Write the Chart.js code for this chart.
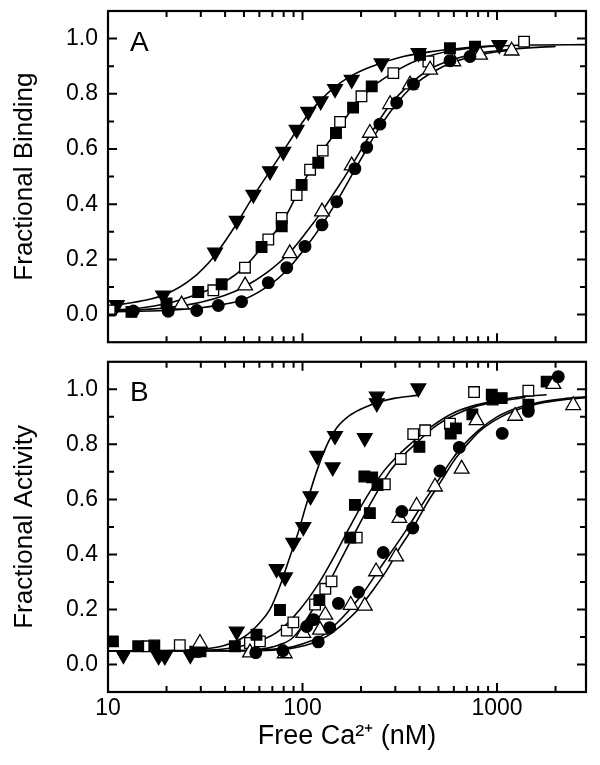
<!DOCTYPE html>
<html>
<head>
<meta charset="utf-8">
<script src="https://cdn.jsdelivr.net/npm/chart.js@4.4.1/dist/chart.umd.min.js"></script>
<style>
  html, body { margin: 0; padding: 0; background: #fff; }
  #wrapA { position: absolute; left: 0; top: 0; width: 600px; height: 352px; }
  #wrapB { position: absolute; left: 0; top: 352px; width: 600px; height: 413px; }
</style>
</head>
<body>
<div id="wrapA"><canvas id="chartA"></canvas></div>
<div id="wrapB"><canvas id="chartB"></canvas></div>
<script>
// axis ticks
const xDecades = [10, 100, 1000];
const xMinor = [20, 30, 40, 50, 60, 70, 80, 90, 200, 300, 400, 500, 600, 700, 800, 900, 2000];
const yMajor = [0, 0.2, 0.4, 0.6, 0.8, 1.0];
const yMinor = [0.1, 0.3, 0.5, 0.7, 0.9];

// ---- panel A : fractional binding ----
const aTriDownX = [11.1, 19.2, 35.5, 45.9, 55.9, 68.1, 79.6, 93.3, 107, 124, 147, 179, 255, 395, 1028];
const aTriDownY = [0.035, 0.07, 0.225, 0.34, 0.435, 0.52, 0.59, 0.67, 0.735, 0.773, 0.818, 0.851, 0.911, 0.948, 0.977];
const aSqFillX = [13.2, 20, 29.1, 38.4, 61.6, 78.2, 99, 120.5, 148.6, 182, 227, 402, 573, 771];
const aSqFillY = [0.01, 0.04, 0.082, 0.11, 0.245, 0.32, 0.47, 0.55, 0.658, 0.75, 0.827, 0.941, 0.965, 0.971];
const aSqOpenX = [10.2, 34.8, 50.6, 66.7, 78.2, 93.3, 109.4, 127, 156, 201, 293, 444, 1377];
const aSqOpenY = [0.015, 0.088, 0.17, 0.272, 0.35, 0.433, 0.525, 0.594, 0.698, 0.791, 0.875, 0.917, 0.989];
const aTriOpenX = [23.9, 50.7, 86, 126, 179, 222, 282, 357, 453, 596, 818, 1189];
const aTriOpenY = [0.036, 0.105, 0.222, 0.373, 0.54, 0.658, 0.762, 0.833, 0.887, 0.917, 0.941, 0.956];
const aCircX = [13.5, 20.4, 28.6, 36.9, 48.6, 66.7, 83, 103, 126, 150, 186, 214, 250, 305, 372, 573, 726];
const aCircY = [0.013, 0.012, 0.015, 0.033, 0.047, 0.116, 0.17, 0.247, 0.325, 0.409, 0.529, 0.606, 0.69, 0.768, 0.835, 0.92, 0.935];

// fitted curves A
const aFitTriX = [10, 15, 20, 27, 35, 45, 56, 68, 80, 93, 107, 125, 147, 175, 210, 255, 330, 450, 650, 1000];
const aFitTriY = [0.03, 0.05, 0.075, 0.13, 0.21, 0.32, 0.43, 0.52, 0.595, 0.665, 0.725, 0.78, 0.825, 0.862, 0.89, 0.912, 0.935, 0.952, 0.965, 0.975];
const aFitSqX = [10, 15, 20, 29, 38, 50, 62, 78, 93, 109, 127, 150, 180, 225, 290, 400, 570, 800, 1100, 1500, 2868];
const aFitSqY = [0.015, 0.025, 0.04, 0.075, 0.11, 0.17, 0.245, 0.33, 0.43, 0.52, 0.595, 0.665, 0.745, 0.82, 0.875, 0.925, 0.955, 0.968, 0.974, 0.977, 0.978];
const aFitTriOX = [10, 20, 30, 40, 50, 65, 86, 105, 126, 150, 179, 222, 282, 357, 453, 600, 820, 1200, 2000];
const aFitTriOY = [0.012, 0.025, 0.045, 0.07, 0.1, 0.15, 0.225, 0.3, 0.375, 0.455, 0.54, 0.65, 0.76, 0.835, 0.89, 0.925, 0.948, 0.962, 0.972];
const aFitCircX = [10, 20, 30, 40, 50, 67, 83, 103, 126, 150, 186, 214, 250, 305, 372, 470, 600, 800, 1200];
const aFitCircY = [0.01, 0.015, 0.025, 0.038, 0.055, 0.105, 0.16, 0.24, 0.325, 0.41, 0.525, 0.6, 0.68, 0.765, 0.83, 0.88, 0.915, 0.94, 0.96];

// ---- panel B : fractional activity ----
const bTriDownX = [12, 18.2, 19.6, 26.5, 45.9, 73.6, 81.3, 89.7, 101, 110, 119, 143, 147, 209, 241, 241, 394];
const bTriDownY = [0.035, 0.03, 0.03, 0.035, 0.12, 0.347, 0.317, 0.443, 0.5, 0.612, 0.759, 0.717, 0.831, 0.823, 0.974, 0.95, 1.004];
const bSqFillX = [10.6, 14.3, 17.3, 28.1, 29.9, 44.9, 58, 76.6, 122, 176, 186, 222, 208, 228, 243, 399, 578, 615, 747, 940, 950, 1057, 1449, 1800];
const bSqFillY = [0.084, 0.066, 0.069, 0.046, 0.048, 0.066, 0.108, 0.198, 0.234, 0.461, 0.58, 0.55, 0.683, 0.68, 0.652, 0.791, 0.839, 0.858, 0.909, 0.98, 0.963, 0.968, 0.944, 1.028];
const bSqOpenX = [16.1, 23.4, 53.7, 60.4, 83, 89.7, 116, 131, 141, 190, 265, 320, 371, 427, 573, 762, 1449];
const bSqOpenY = [0.066, 0.07, 0.078, 0.084, 0.123, 0.153, 0.218, 0.275, 0.302, 0.461, 0.655, 0.747, 0.837, 0.851, 0.875, 0.99, 0.995];
const bTriOpenX = [29.7, 53.7, 81, 101, 123, 131, 177, 209, 239, 303, 315, 386, 480, 658, 785, 1239, 1950, 2466];
const bTriOpenY = [0.078, 0.043, 0.04, 0.114, 0.126, 0.18, 0.216, 0.213, 0.338, 0.392, 0.532, 0.576, 0.646, 0.711, 0.887, 0.903, 1.019, 0.942];
const bCircX = [57.5, 79.3, 105, 114, 120.5, 138, 153, 194, 260, 324, 369, 509, 640, 1064, 1449, 2066];
const bCircY = [0.043, 0.05, 0.138, 0.163, 0.082, 0.134, 0.222, 0.263, 0.407, 0.556, 0.496, 0.703, 0.789, 0.84, 0.92, 1.046];

// fitted curves B
const bFitTriX = [10, 20, 30, 40, 50, 60, 68, 77, 86, 95, 104, 118, 132, 150, 175, 210, 250, 300, 390];
const bFitTriY = [0.05, 0.05, 0.055, 0.07, 0.1, 0.15, 0.2, 0.29, 0.39, 0.48, 0.575, 0.7, 0.79, 0.86, 0.905, 0.935, 0.955, 0.968, 0.978];
const bFitSqX = [10, 30, 45, 60, 75, 97, 120, 145, 175, 210, 260, 310, 357, 450, 600, 800, 1100, 1400, 1800];
const bFitSqY = [0.05, 0.052, 0.062, 0.085, 0.12, 0.2, 0.29, 0.39, 0.5, 0.6, 0.7, 0.76, 0.8, 0.86, 0.915, 0.945, 0.965, 0.975, 0.98];
const bFitSqOX = [10, 40, 60, 75, 90, 113, 135, 160, 193, 230, 280, 330, 379, 470, 620, 800, 1100, 1400];
const bFitSqOY = [0.05, 0.05, 0.055, 0.07, 0.1, 0.2, 0.29, 0.39, 0.5, 0.6, 0.7, 0.76, 0.8, 0.86, 0.91, 0.94, 0.96, 0.97];
const bFitCircX = [10, 50, 70, 90, 110, 130, 150, 175, 210, 250, 300, 350, 420, 500, 580, 658, 800, 1000, 1300, 1700, 2200, 2868];
const bFitCircY = [0.05, 0.05, 0.055, 0.065, 0.085, 0.11, 0.15, 0.2, 0.27, 0.35, 0.43, 0.5, 0.59, 0.67, 0.74, 0.79, 0.85, 0.9, 0.935, 0.955, 0.966, 0.973];
const bFitTriOX = [10, 50, 70, 90, 115, 135, 160, 193, 230, 270, 320, 372, 440, 520, 600, 684, 820, 1050, 1350, 1750, 2250, 2868];
const bFitTriOY = [0.05, 0.05, 0.052, 0.06, 0.08, 0.105, 0.145, 0.2, 0.27, 0.34, 0.43, 0.5, 0.59, 0.67, 0.74, 0.79, 0.85, 0.9, 0.932, 0.952, 0.963, 0.97];

const X_MIN = 10, X_MAX = 2868;
const FONT = "'Liberation Sans', Arial, sans-serif";
Chart.defaults.font.family = FONT;
Chart.defaults.color = '#000';

function pts(xs, ys) {
  return xs.map((x, i) => ({ x: x, y: ys[i] }));
}

function markers(xs, ys, style, filled, radius, rotation) {
  return {
    data: pts(xs, ys),
    showLine: false,
    pointStyle: style,
    pointRadius: radius,
    pointRotation: rotation || 0,
    pointBackgroundColor: filled ? '#000' : '#fff',
    pointBorderColor: '#000',
    pointBorderWidth: 1.3,
    order: 1
  };
}

function curve(xs, ys) {
  return {
    data: pts(xs, ys),
    showLine: true,
    borderColor: '#000',
    borderWidth: 1.6,
    pointRadius: 0,
    cubicInterpolationMode: 'monotone',
    fill: false,
    order: 2
  };
}

// box frame, inward ticks on all four sides, panel letter
const framePlugin = {
  id: 'frame',
  afterDatasetsDraw(chart, args, opts) {
    const { ctx, chartArea: a } = chart;
    const xs = chart.scales.x, ys = chart.scales.y;
    ctx.save();
    ctx.strokeStyle = '#000';
    ctx.lineWidth = 2;
    ctx.beginPath();
    const xTick = (v, len) => {
      const p = xs.getPixelForValue(v);
      ctx.moveTo(p, a.top); ctx.lineTo(p, a.top + len);
      ctx.moveTo(p, a.bottom); ctx.lineTo(p, a.bottom - len);
    };
    const yTick = (v, len) => {
      const p = ys.getPixelForValue(v);
      ctx.moveTo(a.left, p); ctx.lineTo(a.left + len, p);
      ctx.moveTo(a.right, p); ctx.lineTo(a.right - len, p);
    };
    xDecades.forEach(v => xTick(v, 9));
    xMinor.forEach(v => xTick(v, 6));
    yMajor.forEach(v => yTick(v, 9));
    yMinor.forEach(v => yTick(v, 6));
    ctx.stroke();
    ctx.lineWidth = 2.2;
    ctx.strokeRect(a.left, a.top, a.right - a.left, a.bottom - a.top);
    ctx.fillStyle = '#000';
    ctx.font = '28px ' + FONT;
    ctx.textBaseline = 'alphabetic';
    ctx.fillText(opts.letter, a.left + 22, ys.getPixelForValue(1.0) + 12);
    ctx.restore();
  }
};

function makeOptions(letter, yTitle, showX, padTop) {
  return {
    responsive: true,
    maintainAspectRatio: false,
    animation: false,
    events: [],
    layout: { padding: { left: 0, right: 14, top: padTop, bottom: showX ? 0 : 5 } },
    plugins: {
      legend: { display: false },
      tooltip: { enabled: false },
      frame: { letter: letter }
    },
    scales: {
      x: {
        type: 'logarithmic',
        min: X_MIN,
        max: X_MAX,
        grid: { display: false, drawTicks: false },
        border: { display: false },
        afterBuildTicks: s => { s.ticks = xDecades.map(v => ({ value: v })); },
        afterFit: s => {
          s.height = showX ? 73 : 0;
          s.paddingLeft = 0;
          s.paddingRight = 0;
        },
        ticks: {
          display: showX,
          autoSkip: false,
          maxRotation: 0,
          minRotation: 0,
          padding: 3,
          font: { size: 23 },
          callback: v => String(v)
        },
        title: {
          display: showX,
          text: 'Free Ca²⁺ (nM)',
          font: { size: 27 },
          padding: { top: 0, bottom: 12 }
        }
      },
      y: {
        type: 'linear',
        min: -0.1,
        max: 1.1,
        grid: { display: false, drawTicks: false },
        border: { display: false },
        afterBuildTicks: s => { s.ticks = yMajor.map(v => ({ value: v })); },
        afterFit: s => {
          s.width = 108;
          s.paddingTop = 0;
          s.paddingBottom = 0;
        },
        ticks: {
          padding: 10,
          font: { size: 23 },
          callback: v => v.toFixed(1)
        },
        title: {
          display: true,
          text: yTitle,
          font: { size: 26 },
          padding: { top: 9, bottom: 0 }
        }
      }
    }
  };
}

new Chart(document.getElementById('chartA'), {
  type: 'scatter',
  data: {
    datasets: [
      curve(aFitTriX, aFitTriY),
      curve(aFitSqX, aFitSqY),
      curve(aFitTriOX, aFitTriOY),
      curve(aFitCircX, aFitCircY),
      markers(aCircX, aCircY, 'circle', true, 5.8),
      markers(aTriOpenX, aTriOpenY, 'triangle', false, 8.5),
      markers(aSqFillX, aSqFillY, 'rect', true, 7.5),
      markers(aSqOpenX, aSqOpenY, 'rect', false, 7.5),
      markers(aTriDownX, aTriDownY, 'triangle', true, 8.5, 180)
    ]
  },
  options: makeOptions('A', 'Fractional Binding', false, 11),
  plugins: [framePlugin]
});

new Chart(document.getElementById('chartB'), {
  type: 'scatter',
  data: {
    datasets: [
      curve(bFitTriX, bFitTriY),
      curve(bFitSqX, bFitSqY),
      curve(bFitSqOX, bFitSqOY),
      curve(bFitCircX, bFitCircY),
      curve(bFitTriOX, bFitTriOY),
      markers(bCircX, bCircY, 'circle', true, 5.8),
      markers(bTriOpenX, bTriOpenY, 'triangle', false, 8.5),
      markers(bSqFillX, bSqFillY, 'rect', true, 7.5),
      markers(bSqOpenX, bSqOpenY, 'rect', false, 7.5),
      markers(bTriDownX, bTriDownY, 'triangle', true, 8.5, 180)
    ]
  },
  options: makeOptions('B', 'Fractional Activity', true, 5),
  plugins: [framePlugin]
});
</script>
</body>
</html>
